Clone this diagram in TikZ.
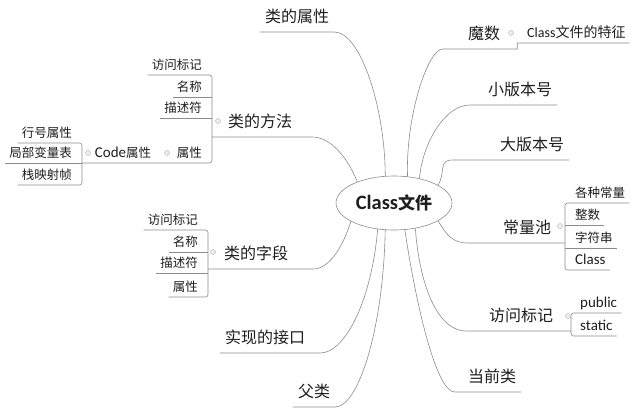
\documentclass[tikz,border=0pt]{standalone}
\usepackage{fontspec}
\setmainfont{Noto Sans CJK SC}
\newfontfamily\lat{Carlito}[Scale=1.2]
\newfontfamily\latn{Carlito}
\usetikzlibrary{shapes.geometric}

\definecolor{ink}{HTML}{1E1E1E}
\definecolor{wire}{HTML}{8C8C8C}

\tikzset{
  link/.style={draw=wire, line width=0.6pt},
  spine/.style={draw=wire, line width=0.6pt, rounded corners=2.5pt},
  topic/.style={text=ink, font=\fontsize{16}{16}\selectfont, inner xsep=5pt, inner ysep=0pt,
                text height=14pt, text depth=9pt, anchor=south},
  leaf/.style={text=ink, font=\fontsize{12.5}{12.5}\selectfont, inner xsep=4pt, inner ysep=0pt,
               text height=11pt, text depth=5pt},
  leafl/.style={leaf, anchor=south east},
  leafr/.style={leaf, anchor=south west},
  knob/.style={circle, draw=wire!70, fill=wire!15, line width=0.4pt, inner sep=0pt, minimum size=5pt},
  hub/.style={ellipse, draw=wire, line width=0.6pt, fill=white, minimum width=116pt,
              minimum height=54pt, inner sep=0pt, text=ink, font=\bfseries\fontsize{17}{17}\selectfont},
}

\begin{document}
\begin{tikzpicture}[x=1pt,y=-1pt]
\useasboundingbox (0,0) rectangle (636,416);

% central topic
\node[hub] (core) at (394,203) {{\lat Class}文件};

% main branches, left
\node[topic] (shuxing) at (297,32)  {类的属性};
\node[topic] (fangfa)  at (260,137) {类的方法};
\node[topic] (ziduan)  at (256,269) {类的字段};
\node[topic] (jiekou)  at (265,353) {实现的接口};
\node[topic] (fulei)   at (314,407) {父类};

% main branches, right
\node[topic] (moshu)    at (484,49)  {魔数};
\node[topic] (xiao)     at (520,105) {小版本号};
\node[topic] (da)       at (532,160) {大版本号};
\node[topic] (chang)    at (527,243) {常量池};
\node[topic] (fangwen)  at (521,331) {访问标记};
\node[topic] (dangqian) at (492,392) {当前类};

% spines of the sub-lists
\coordinate (ms)  at (212,75);
\coordinate (cs2) at (82,143);
\coordinate (zs)  at (208,230);
\coordinate (cs)  at (565,203);
\coordinate (fs)  at (571,313);

% children of 类的方法
\node[leafl] (m1) at (206,75)  {访问标记};
\node[leafl] (m2) at (206,97)  {名称};
\node[leafl] (m3) at (206,118) {描述符};
\node[leafl] (m4) at (206,163) {属性};
\node[leaf, anchor=south] (code) at (123,163) {{\lat Code}属性};
\node[leafl] (k1) at (76,143) {行号属性};
\node[leafl] (k2) at (76,163) {局部变量表};
\node[leafl] (k3) at (76,185) {栈映射帧};

% children of 类的字段
\node[leafl] (z1) at (202,230) {访问标记};
\node[leafl] (z2) at (202,252) {名称};
\node[leafl] (z3) at (202,273) {描述符};
\node[leafl] (z4) at (202,297) {属性};

% children of 常量池
\node[leafr] (c1) at (571,203) {各种常量};
\node[leafr] (c2) at (571,225) {整数};
\node[leafr] (c3) at (571,248) {字符串};
\node[leafr] (c4) at (571,270) {\lat Class};

% children of 访问标记
\node[leafr] (p1) at (576,313) {\lat public};
\node[leafr] (p2) at (576,336) {\lat static};

% child of 魔数
\node[leafr, font=\fontsize{14}{14}\selectfont] (tezheng) at (523,43) {{\latn Class}文件的特征};

% curved links from the hub, left side
\draw[link] (core.108) .. controls +(0,-66) and +(27,0) .. (shuxing.south east) -- (shuxing.south west);
\draw[link] (core.150) .. controls +(-10,-25) and +(18,0) .. ([xshift=15pt]fangfa.south east) -- (fangfa.south -| ms);
\draw[link] (core.203) .. controls +(-6,20) and +(18,0) .. ([xshift=20pt]ziduan.south east) -- (ziduan.south -| zs);
\draw[link] (core.238) .. controls +(-6,71) and +(25,0) .. ([xshift=10pt]jiekou.south east) -- (jiekou.south west);
\draw[link] (core.252) .. controls +(-2,100) and +(23,0) .. (fulei.south east) -- (fulei.south west);

% curved links from the hub, right side
\draw[link] (core.63) .. controls +(-2,-60) and +(-15,0) .. ([xshift=-20pt]moshu.south west)
            -- ([xshift=12pt]moshu.south east) |- (tezheng.south east);
\draw[link] (core.44) .. controls +(3,-35) and +(-25,0) .. ([xshift=-13pt]xiao.south west) -- (xiao.south east);
\draw[link] (core.22) .. controls +(8,-14) and +(-15,0) .. ([xshift=-42pt]da.south west) -- (da.south east);
\draw[link] (core.-22) .. controls +(8,14) and +(-15,0) .. ([xshift=-30pt]chang.south west) -- (chang.south -| cs);
\draw[link] (core.-50) .. controls +(5,65) and +(-25,0) .. ([xshift=-18pt]fangwen.south west) -- (fangwen.south -| fs);
\draw[link] (core.-68) .. controls +(12,80) and +(-18,0) .. ([xshift=-8pt]dangqian.south west) -- (dangqian.south east);

% brackets and underlines of the sub-lists
\draw[spine] (m1.south west) -- (m1.south -| ms) -- (m4.south -| ms) -- (code.south -| cs2);
\draw[link] (m2.south west) -- (m2.south -| ms);
\draw[link] (m3.south west) -- (m3.south -| ms);

\draw[spine] (k1.south west) -- (k1.south -| cs2) -- (k3.south -| cs2) -- (k3.south west);
\draw[link] (k2.south west) -- (k2.south -| cs2);

\draw[spine] (z1.south west) -- (z1.south -| zs) -- (z4.south -| zs) -- (z4.south west);
\draw[link] (z2.south west) -- (z2.south -| zs);
\draw[link] (z3.south west) -- (z3.south -| zs);

\draw[spine] (c1.south east) -- (c1.south -| cs) -- (c4.south -| cs) -- (c4.south east);
\draw[link] (c2.south east) -- (c2.south -| cs);
\draw[link] (c3.south east) -- (c3.south -| cs);

\draw[spine] (p1.south east) -- (p1.south -| fs) -- (p2.south -| fs) -- (p2.south east);

% collapse knobs
\node[knob] (kb1) at (511,33)  {};
\node[knob] (kb2) at (560,226) {};
\node[knob] (kb3) at (568,316) {};
\node[knob] (kb4) at (218,121) {};
\node[knob] (kb5) at (213,252) {};
\node[knob] (kb6) at (167,153) {};
\node[knob] (kb7) at (88,153)  {};

\end{tikzpicture}
\end{document}
